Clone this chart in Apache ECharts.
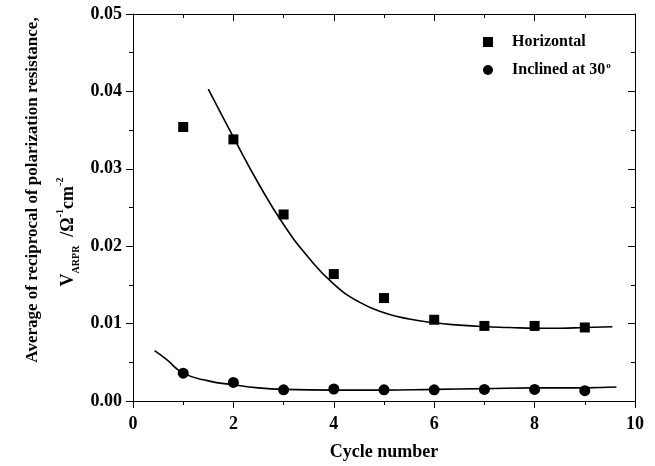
<!DOCTYPE html>
<html>
<head>
<meta charset="utf-8">
<script src="https://cdn.jsdelivr.net/npm/echarts@6/dist/echarts.min.js"></script>
<style>
  html, body { margin: 0; padding: 0; background: #fff; }
  #chart { width: 655px; height: 466px; }
</style>
</head>
<body>
<div id="chart"></div>
<script>
// measured points
const cycles = [1, 2, 3, 4, 5, 6, 7, 8, 9];
const horizontal = [0.0354, 0.0338, 0.0241, 0.0164, 0.0133, 0.0105, 0.0097, 0.0097, 0.0095];
const inclined = [0.0036, 0.0024, 0.00145, 0.00155, 0.00145, 0.00145, 0.0015, 0.0015, 0.00133];

// fitted curves
const fitHX = [1.5, 2, 2.5, 3, 3.5, 4, 4.5, 5, 5.5, 6, 6.5, 7, 7.5, 8, 8.5, 9, 9.55];
const fitHY = [0.0403, 0.0341, 0.0281, 0.0228, 0.0185, 0.0151, 0.0128, 0.0114, 0.0106, 0.0101, 0.0098, 0.0096, 0.0095, 0.0094, 0.0094, 0.0095, 0.0096];
const fitIX = [0.43, 0.66, 1, 1.5, 2, 2.5, 3, 4, 5, 6, 7, 8, 9, 9.63];
const fitIY = [0.0065, 0.0054, 0.0036, 0.0026, 0.0021, 0.0017, 0.0015, 0.0014, 0.0014, 0.0015, 0.0016, 0.0017, 0.0017, 0.0018];

const xTicks = [0, 2, 4, 6, 8, 10];

const font = "Liberation Serif";
const zip = (xs, ys) => xs.map((x, i) => [x, ys[i]]);

const chart = echarts.init(document.getElementById("chart"));

const axisBase = {
  axisLine: { onZero: false, lineStyle: { color: "#000", width: 1 } },
  splitLine: { show: false },
  minorTick: { show: true, splitNumber: 2, length: 4, lineStyle: { color: "#000" } },
  minorSplitLine: { show: false },
};

const bold = (size) => ({ fontFamily: font, fontWeight: "bold", fontSize: size, color: "#000" });

chart.setOption({
  animation: false,
  textStyle: { fontFamily: font },
  grid: { left: 133, right: 20, top: 14, bottom: 63 },
  graphic: [
    {
      type: "text",
      x: 33,
      y: 190,
      rotation: Math.PI / 2,
      style: Object.assign(bold(17), {
        text: "Average of reciprocal of polarization resistance,",
        align: "center",
        verticalAlign: "middle",
        fill: "#000",
      }),
    },
    {
      type: "text",
      x: 68,
      y: 232,
      rotation: Math.PI / 2,
      style: {
        text: "{a|V}{sub|ARPR}{a|  /Ω}{sup|-1}{a|cm}{sup|-2}",
        align: "center",
        verticalAlign: "middle",
        rich: {
          a: Object.assign(bold(18), { fill: "#000", lineHeight: 26, verticalAlign: "middle" }),
          sub: Object.assign(bold(10), { fill: "#000", lineHeight: 26, verticalAlign: "bottom" }),
          sup: Object.assign(bold(10), { fill: "#000", lineHeight: 26, verticalAlign: "top" }),
        },
      },
    },
  ],
  legend: {
    orient: "vertical",
    left: 478,
    top: 29,
    itemGap: 11,
    itemWidth: 10,
    itemHeight: 10,
    itemStyle: { opacity: 1 },
    data: ["Horizontal", "Inclined at 30"],
    formatter: (name) => name === "Inclined at 30" ? "{a|Inclined at 30}{s|o}" : "{a|" + name + "}",
    textStyle: {
      padding: [0, 0, 0, 14],
      rich: {
        a: bold(16),
        s: Object.assign(bold(9), { verticalAlign: "top", padding: [0, 0, 9, 1] }),
      },
    },
  },
  xAxis: [
    Object.assign({}, axisBase, {
      type: "value",
      min: 0,
      max: 10,
      interval: 2,
      name: "Cycle number",
      nameLocation: "middle",
      nameGap: 42,
      nameTextStyle: bold(18),
      axisTick: { inside: false, length: 7, lineStyle: { color: "#000" } },
      axisLabel: Object.assign(bold(18), { margin: 14, customValues: xTicks }),
    }),
    Object.assign({}, axisBase, {
      type: "value",
      position: "top",
      min: 0,
      max: 10,
      interval: 2,
      axisTick: { inside: true, length: 7, lineStyle: { color: "#000" } },
      axisLabel: { show: false },
    }),
  ],
  yAxis: [
    Object.assign({}, axisBase, {
      type: "value",
      min: 0,
      max: 0.05,
      interval: 0.01,
      axisTick: { inside: false, length: 7, lineStyle: { color: "#000" } },
      axisLabel: Object.assign(bold(18), { margin: 11, formatter: (v) => v.toFixed(2) }),
    }),
    Object.assign({}, axisBase, {
      type: "value",
      position: "right",
      min: 0,
      max: 0.05,
      interval: 0.01,
      axisTick: { inside: true, length: 7, lineStyle: { color: "#000" } },
      axisLabel: { show: false },
    }),
  ],
  series: [
    {
      name: "Horizontal",
      type: "scatter",
      symbol: "rect",
      symbolSize: 10,
      itemStyle: { color: "#000", opacity: 1 },
      data: zip(cycles, horizontal),
      z: 3,
    },
    {
      name: "Inclined at 30",
      type: "scatter",
      symbol: "circle",
      symbolSize: 11,
      itemStyle: { color: "#000", opacity: 1 },
      data: zip(cycles, inclined),
      z: 3,
    },
    {
      name: "fitH",
      type: "line",
      smooth: 0.5,
      showSymbol: false,
      lineStyle: { color: "#000", width: 1.6 },
      data: zip(fitHX, fitHY),
    },
    {
      name: "fitI",
      type: "line",
      smooth: 0.5,
      showSymbol: false,
      lineStyle: { color: "#000", width: 1.6 },
      data: zip(fitIX, fitIY),
    },
  ],
});
</script>
</body>
</html>
